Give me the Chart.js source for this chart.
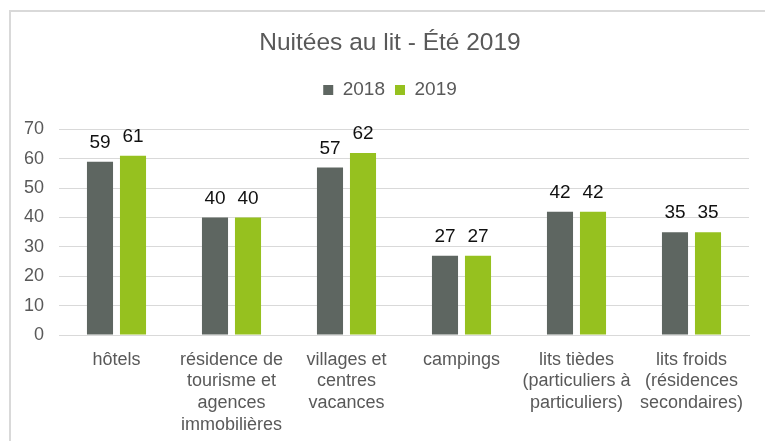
<!DOCTYPE html>
<html>
<head>
<meta charset="utf-8">
<script src="https://cdn.jsdelivr.net/npm/chart.js@4"></script>
<style>
  html, body { margin: 0; padding: 0; background: #fff; overflow: hidden; }
  #wrap { position: relative; width: 765px; height: 441px; overflow: hidden; }
  #frame {
    position: absolute; left: 9px; top: 10px; width: 800px; height: 500px;
    border: 2px solid #d9d9d9; box-sizing: border-box;
  }
  canvas { position: absolute; left: 0; top: 0; }
</style>
</head>
<body>
<div id="wrap">
  <div id="frame"></div>
  <canvas id="nuitees" width="765" height="441"></canvas>
</div>
<script>
const categories = [
  "hôtels",
  ["résidence de", "tourisme et", "agences", "immobilières"],
  ["villages et", "centres", "vacances"],
  "campings",
  ["lits tièdes", "(particuliers à", "particuliers)"],
  ["lits froids", "(résidences", "secondaires)"],
];
const values2018 = [59, 40, 57, 27, 42, 35];
const values2019 = [61, 40, 62, 27, 42, 35];
const yTicks = [0, 10, 20, 30, 40, 50, 60, 70];

const FONT = "'Liberation Sans', Arial, sans-serif";
const GREY_TEXT = "#595959";

// value labels above each bar
const barValues = {
  id: "barValues",
  afterDatasetsDraw(chart) {
    const ctx = chart.ctx;
    ctx.save();
    ctx.font = "19px " + FONT;
    ctx.fillStyle = "#111";
    ctx.textAlign = "center";
    ctx.textBaseline = "alphabetic";
    chart.data.datasets.forEach((ds, i) => {
      chart.getDatasetMeta(i).data.forEach((bar, j) => {
        ctx.fillText(ds.data[j], bar.x, bar.y - 14);
      });
    });
    ctx.restore();
  },
};

// extra space under the legend, and title/legend centred on the outer frame
const legendMargin = {
  id: "legendMargin",
  beforeInit(chart) {
    const fit = chart.legend.fit;
    chart.legend.fit = function () {
      fit.bind(chart.legend)();
      this.height += 20;
    };
  },
  afterLayout(chart) {
    chart.titleBlock.left += 31;
    chart.titleBlock.width -= 31;
    chart.legend.left += 31;
    chart.legend.width -= 31;
  },
};

const data = {
  labels: categories,
  datasets: [
    {
      label: "2018",
      data: values2018,
      backgroundColor: "#5e6661",
      borderWidth: 0,
      categoryPercentage: 0.574,
      barPercentage: 0.79,
    },
    {
      label: "2019",
      data: values2019,
      backgroundColor: "#96c11f",
      borderWidth: 0,
      categoryPercentage: 0.574,
      barPercentage: 0.79,
    },
  ],
};

const config = {
  type: "bar",
  data: data,
  plugins: [barValues, legendMargin],
  options: {
    responsive: false,
    animation: false,
    events: [],
    layout: { padding: { top: 10, left: 0, right: 16, bottom: 0 } },
    scales: {
      x: {
        grid: { display: false, drawTicks: false },
        border: { color: "#d9d9d9" },
        ticks: {
          color: GREY_TEXT,
          font: { family: FONT, size: 18 },
          padding: 14,
          maxRotation: 0,
          minRotation: 0,
          autoSkip: false,
        },
        afterFit: (scale) => { scale.height = 106; },
      },
      y: {
        min: 0,
        max: 70,
        border: { display: false },
        grid: { color: "#d9d9d9", drawTicks: false },
        afterBuildTicks: (scale) => {
          scale.ticks = yTicks.map((v) => ({ value: v }));
        },
        ticks: {
          color: GREY_TEXT,
          font: { family: FONT, size: 18 },
          padding: 15,
        },
        afterFit: (scale) => { scale.width = 59; },
      },
    },
    plugins: {
      title: {
        display: true,
        text: "Nuitées au lit - Été 2019",
        color: GREY_TEXT,
        font: { family: FONT, size: 24.5, weight: "normal" },
        padding: { top: 19, bottom: 12 },
      },
      legend: {
        labels: {
          color: GREY_TEXT,
          font: { family: FONT, size: 19 },
          boxWidth: 10,
          boxHeight: 10,
          padding: 10,
        },
      },
      tooltip: { enabled: false },
    },
  },
};

const chart = new Chart(document.getElementById("nuitees"), config);
</script>
</body>
</html>
